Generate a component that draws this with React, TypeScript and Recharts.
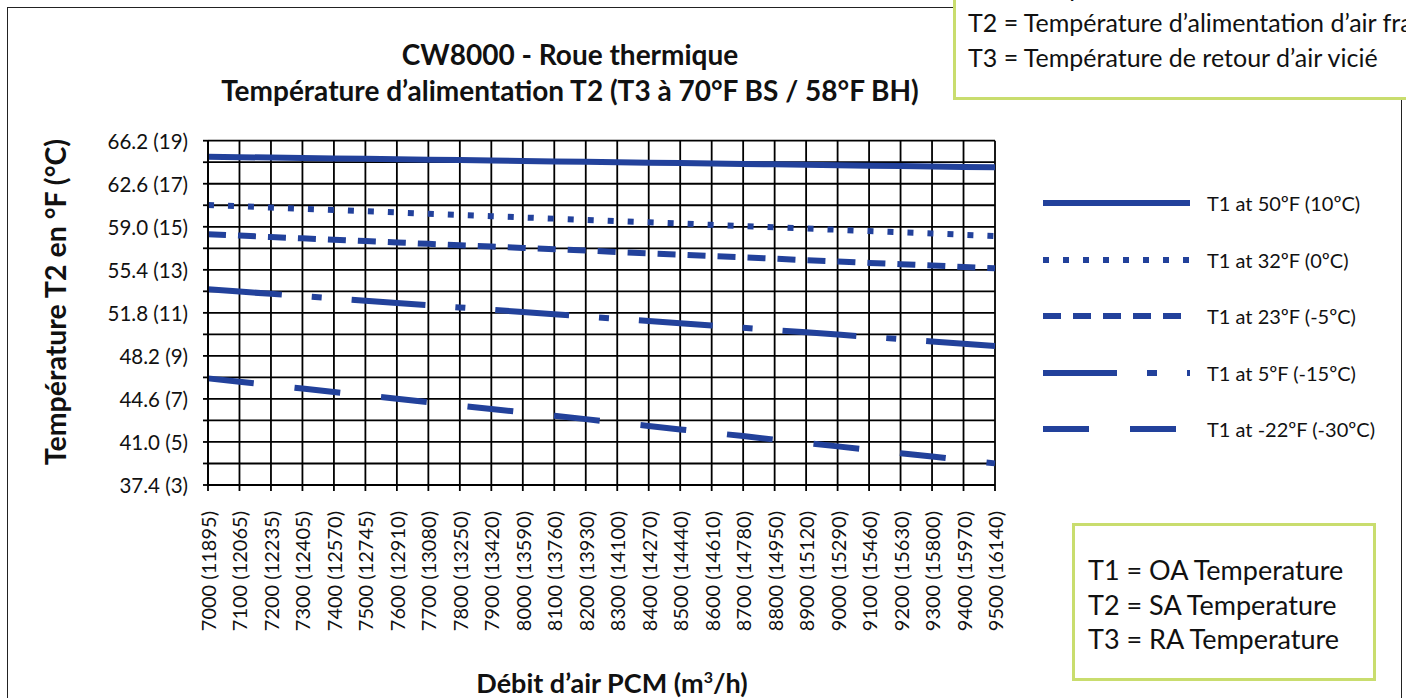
import { LineChart, Line, XAxis, YAxis, CartesianGrid } from 'recharts';

// CFM with m3/h in parentheses
const CFM = [7000, 7100, 7200, 7300, 7400, 7500, 7600, 7700, 7800, 7900, 8000, 8100, 8200, 8300, 8400, 8500, 8600, 8700, 8800, 8900, 9000, 9100, 9200, 9300, 9400, 9500];
const M3H = [11895, 12065, 12235, 12405, 12570, 12745, 12910, 13080, 13250, 13420, 13590, 13760, 13930, 14100, 14270, 14440, 14610, 14780, 14950, 15120, 15290, 15460, 15630, 15800, 15970, 16140];

// supply temperature T2 (°F) per outdoor condition T1
const T1_50F = [64.86, 64.82, 64.79, 64.75, 64.72, 64.68, 64.65, 64.61, 64.58, 64.54, 64.5, 64.47, 64.43, 64.4, 64.36, 64.33, 64.29, 64.25, 64.22, 64.18, 64.15, 64.11, 64.08, 64.04, 64.01, 63.97];
const T1_32F = [60.82, 60.72, 60.61, 60.51, 60.41, 60.3, 60.2, 60.09, 59.99, 59.89, 59.78, 59.68, 59.58, 59.47, 59.37, 59.27, 59.16, 59.06, 58.95, 58.85, 58.75, 58.64, 58.54, 58.44, 58.33, 58.23];
const T1_23F = [58.37, 58.26, 58.14, 58.03, 57.92, 57.8, 57.69, 57.57, 57.46, 57.35, 57.23, 57.12, 57.01, 56.89, 56.78, 56.67, 56.55, 56.44, 56.33, 56.21, 56.1, 55.98, 55.87, 55.76, 55.64, 55.53];
const T1_5F = [53.77, 53.58, 53.39, 53.2, 53.01, 52.82, 52.63, 52.44, 52.25, 52.06, 51.87, 51.68, 51.49, 51.3, 51.12, 50.93, 50.74, 50.55, 50.36, 50.17, 49.98, 49.79, 49.6, 49.41, 49.22, 49.03];
const T1_M22F = [46.32, 46.04, 45.75, 45.47, 45.18, 44.9, 44.61, 44.33, 44.04, 43.76, 43.48, 43.19, 42.91, 42.62, 42.34, 42.05, 41.77, 41.49, 41.2, 40.92, 40.63, 40.35, 40.06, 39.78, 39.49, 39.21];

const Y_GRID = [37.4, 39.2, 41.0, 42.8, 44.6, 46.4, 48.2, 50.0, 51.8, 53.6, 55.4, 57.2, 59.0, 60.8, 62.6, 64.4, 66.2];
const Y_TICK_LABELS = ['37.4 (3)', '', '41.0 (5)', '', '44.6 (7)', '', '48.2 (9)', '', '51.8 (11)', '', '55.4 (13)', '', '59.0 (15)', '', '62.6 (17)', '', '66.2 (19)'];

const SERIES = [
  { key: 't50', name: 'T1 at 50ºF (10ºC)', values: T1_50F, dash: undefined },
  { key: 't32', name: 'T1 at 32ºF (0ºC)', values: T1_32F, dash: '6 14' },
  { key: 't23', name: 'T1 at 23ºF (-5ºC)', values: T1_23F, dash: '18 12' },
  { key: 't5', name: 'T1 at 5ºF (-15ºC)', values: T1_5F, dash: '74 30 10 30' },
  { key: 'tm22', name: 'T1 at -22ºF (-30ºC)', values: T1_M22F, dash: '46 41' },
];

const BLUE = '#22419B';
const GREEN = '#C9DD6E';

const data = CFM.map((cfm, i) => {
  const row: Record<string, number | string> = { label: `${cfm} (${M3H[i]})` };
  SERIES.forEach((s) => (row[s.key] = s.values[i]));
  return row;
});

const XTick = (props: any) => {
  const { x, y, payload } = props;
  return (
    <text
      x={x}
      y={y}
      transform={`rotate(-90 ${x} ${y})`}
      dx={-18}
      textAnchor="end"
      dominantBaseline="central"
      style={{ fontSize: '20px' }}
      fill="#111"
    >
      {payload.value}
    </text>
  );
};

const YTick = (props: any) => {
  const { x, y, payload } = props;
  const label = Y_TICK_LABELS[Y_GRID.indexOf(payload.value)] ?? '';
  if (!label) return null;
  return (
    <text x={x} y={y} textAnchor="end" dominantBaseline="central" style={{ fontSize: '20.5px' }} fill="#111">
      {label}
    </text>
  );
};

function SeriesLegend() {
  return (
    <div style={{ position: 'absolute', left: 1043, top: 175 }}>
      {SERIES.map((s) => (
        <div key={s.key} style={{ height: 56.5, display: 'flex', alignItems: 'center' }}>
          <svg width={164} height={12}>
            <line x1={0} y1={6} x2={147} y2={6} stroke={BLUE} strokeWidth={6} strokeDasharray={s.dash} />
          </svg>
          <span style={{ fontSize: 20, color: '#111', whiteSpace: 'nowrap' }}>{s.name}</span>
        </div>
      ))}
    </div>
  );
}

export default function App() {
  return (
    <div style={{ position: 'relative', width: 1406, height: 698, overflow: 'hidden', fontFamily: 'Lato, sans-serif', background: '#fff' }}>
      <style>{'body{margin:0}'}</style>

      {/* outer frame */}
      <div style={{ position: 'absolute', left: 7, top: 7, width: 1393, height: 720, borderLeft: '1.5px solid #222', borderTop: '1.5px solid #222', borderRight: '1.5px solid #222' }} />

      <LineChart width={1406} height={698} data={data} margin={{ top: 140.7, right: 411, bottom: 53, left: 108 }}>
        <CartesianGrid stroke="#000" strokeWidth={1.8} />
        <XAxis
          dataKey="label"
          interval={0}
          height={160}
          tick={<XTick />}
          tickSize={6}
          stroke="#000"
          strokeWidth={1.8}
        />
        <YAxis
          type="number"
          domain={[37.4, 66.2]}
          ticks={Y_GRID}
          interval={0}
          width={100}
          tickSize={5}
          tickMargin={15}
          tick={<YTick />}
          stroke="#000"
          strokeWidth={1.8}
          allowDataOverflow
        />
        {SERIES.map((s) => (
          <Line
            key={s.key}
            dataKey={s.key}
            name={s.name}
            stroke={BLUE}
            strokeWidth={6}
            strokeDasharray={s.dash}
            dot={false}
            activeDot={false}
            isAnimationActive={false}
          />
        ))}
      </LineChart>

      <SeriesLegend />

      {/* title */}
      <div style={{ position: 'absolute', left: 0, top: 36, width: 1140, textAlign: 'center', fontWeight: 700, fontSize: 28, lineHeight: '36px', color: '#111' }}>
        <div>CW8000 - Roue thermique</div>
        <div>Température d’alimentation T2 (T3 à 70°F BS / 58°F BH)</div>
      </div>

      {/* axis titles */}
      <div style={{ position: 'absolute', left: 55, top: 302, transform: 'translate(-50%, -50%) rotate(-90deg)', whiteSpace: 'nowrap', fontWeight: 700, fontSize: 28.5, color: '#111' }}>
        Température T2 en °F (°C)
      </div>
      <div style={{ position: 'absolute', left: 612, top: 668, transform: 'translateX(-50%)', whiteSpace: 'nowrap', fontWeight: 700, fontSize: 27, lineHeight: '30px', color: '#111' }}>
        Débit d’air PCM (m<sup style={{ fontSize: 16, lineHeight: 0 }}>3</sup>/h)
      </div>

      {/* top-right note box */}
      <div style={{ position: 'absolute', left: 953, top: -60, width: 520, height: 154, border: `3px solid ${GREEN}`, background: '#fff', fontSize: 25, lineHeight: '30px', color: '#111' }}>
        <div style={{ position: 'absolute', left: 12, top: 29, whiteSpace: 'nowrap' }}>T1 = Température d’air extérieur</div>
        <div style={{ position: 'absolute', left: 12, top: 64, whiteSpace: 'nowrap' }}>T2 = Température d’alimentation d’air frais</div>
        <div style={{ position: 'absolute', left: 12, top: 99, whiteSpace: 'nowrap' }}>T3 = Température de retour d’air vicié</div>
      </div>

      {/* bottom-right note box */}
      <div style={{ position: 'absolute', left: 1072, top: 523, width: 298, height: 152, border: `3px solid ${GREEN}`, background: '#fff', fontSize: 27, lineHeight: '34.5px', color: '#111' }}>
        <div style={{ position: 'absolute', left: 13, top: 27, whiteSpace: 'nowrap' }}>
          <div>T1 = OA Temperature</div>
          <div>T2 = SA Temperature</div>
          <div>T3 = RA Temperature</div>
        </div>
      </div>
    </div>
  );
}
